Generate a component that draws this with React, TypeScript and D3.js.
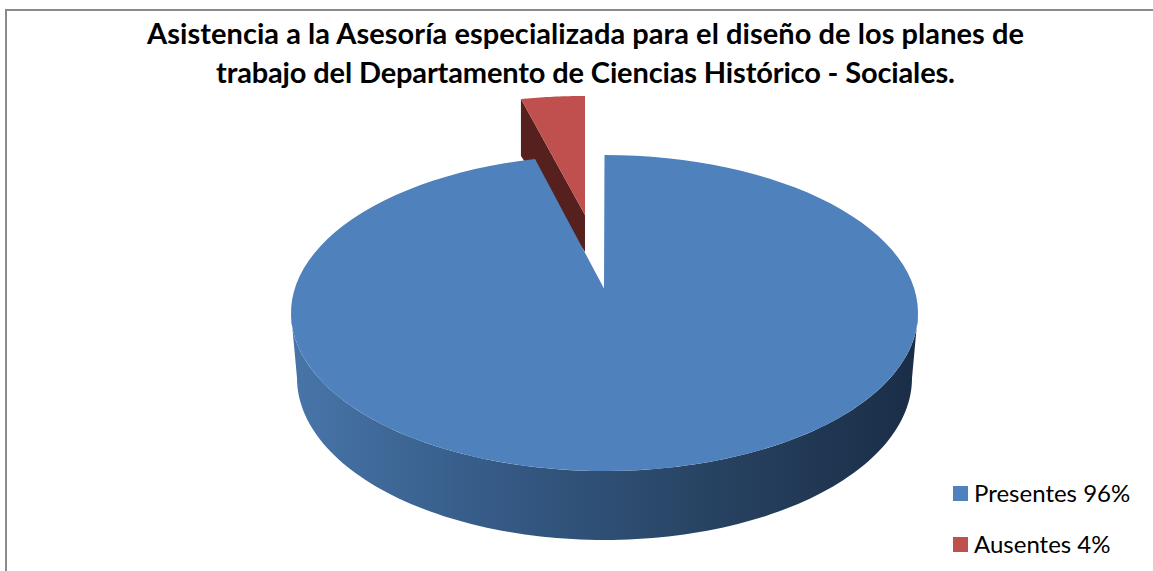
import React from "react";
import * as d3 from "d3";

const categories = ["Presentes 96%", "Ausentes 4%"];
const seriesValues = [96, 4];
const colors = ["#4F81BD", "#C0504D"];
const titleLines = [
  "Asistencia a la Asesoría especializada para el diseño de los planes de",
  "trabajo del Departamento de Ciencias Histórico - Sociales.",
];

const FONT = "Lato, Carlito, Calibri, sans-serif";

// Projection of the 3D pie
const persp = 0.885;
const proj = (a: number) => Math.atan(Math.tan(a) * persp);

export default function App() {
  const pie = d3.pie<number>().sort(null).startAngle(-Math.PI * 2 * (seriesValues[1] / 100)).endAngle(Math.PI * 2 - Math.PI * 2 * (seriesValues[1] / 100));
  const arcs = pie([seriesValues[1], seriesValues[0]]);
  const redA0 = proj(arcs[0].startAngle);

  const cx = 604.5, cy = 313, rx = 313.5, ry = 158;
  const ex = (a: number) => cx + rx * Math.sin(a);
  const ey = (a: number) => cy - ry * Math.cos(a);

  const blueEnd = redA0;
  const bluePath = d3.path();
  bluePath.moveTo(604, 288.5);
  bluePath.lineTo(ex(0), ey(0));
  const steps = d3.range(0, 121).map((i) => (i / 120) * (Math.PI * 2 + blueEnd));
  steps.forEach((a) => bluePath.lineTo(ex(a), ey(a)));
  bluePath.closePath();

  const lowerX = d3.scaleLinear().domain([-1, 1]).range([297, 912]);
  const sideTop = d3.range(0, 121).map((i) => (i / 120) * Math.PI + Math.PI / 2);
  const side = d3.path();
  sideTop.forEach((a, i) => (i ? side.lineTo(ex(a), ey(a)) : side.moveTo(ex(a), ey(a))));
  [...sideTop].reverse().forEach((a) => side.lineTo(lowerX(Math.sin(a)), 378 - 162 * Math.cos(a)));
  side.closePath();

  // exploded slice
  const ax = 585, ay = 215, rrx = 289, rry = 119;
  const redPts = d3.range(0, 21).map((i) => {
    const a = (i / 20) * redA0;
    return [ax + rrx * Math.sin(a), ay - rry * Math.cos(a)] as [number, number];
  });
  const redTop = d3.line()([[ax, ay], ...redPts]) + "Z";
  const last = redPts[redPts.length - 1];
  const redSide = d3.line()([
    [ax, ay],
    last,
    [last[0], last[1] + 57],
    [ax, ay + 37],
  ]) + "Z";

  const titleWidths = [877, 739];

  return (
    <svg width={1153} height={571} style={{ position: "absolute", left: 0, top: 0, background: "#fff" }}>
      <defs>
        <linearGradient id="sideGrad" gradientUnits="userSpaceOnUse" x1={291} x2={918} y1={0} y2={0}>
          <stop offset="0" stopColor="#4875A9" />
          <stop offset="0.3" stopColor="#365C88" />
          <stop offset="0.7" stopColor="#26415F" />
          <stop offset="1" stopColor="#1A2D47" />
        </linearGradient>
      </defs>
      <path d="M6,571V10H1153" fill="none" stroke="#8A8A8A" strokeWidth={2} />
      <path d={redSide} fill="#56201E" />
      <path d={redTop} fill={colors[1]} />
      <path d={side.toString()} fill="url(#sideGrad)" />
      <path d={bluePath.toString()} fill={colors[0]} />
      {titleLines.map((t, i) => (
        <text key={i} x={585.5} y={44 + i * 38.5} textAnchor="middle" textLength={titleWidths[i]} lengthAdjust="spacing" fontFamily={FONT} fontWeight={700} fontSize={29} fill="#000">
          {t}
        </text>
      ))}
      {categories.map((c, i) => (
        <g key={c}>
          <rect x={953} y={486 + i * 51} width={15} height={15} fill={colors[i]} />
          <text x={974} y={502 + i * 51} fontFamily={FONT} fontSize={24} fill="#000">
            {c}
          </text>
        </g>
      ))}
    </svg>
  );
}
